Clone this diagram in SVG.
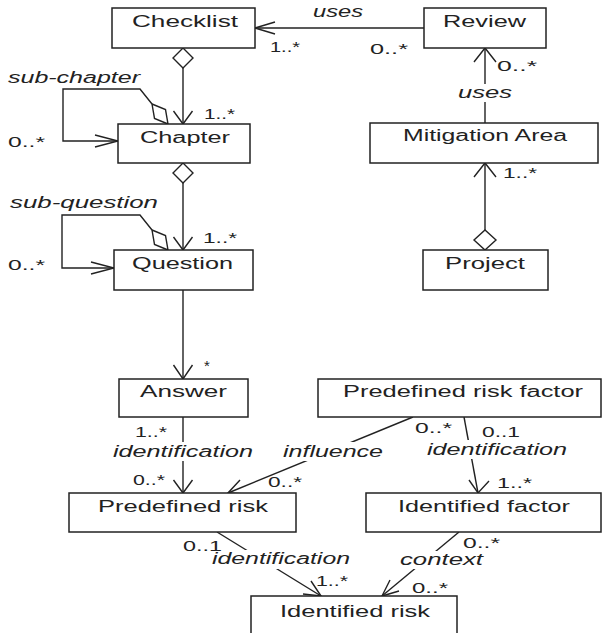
<svg xmlns="http://www.w3.org/2000/svg" width="603" height="633" viewBox="0 0 603 633">
<style>
.box{fill:#fff;stroke:#222;stroke-width:1.5}
.ln{fill:none;stroke:#222;stroke-width:1.4}
.ah{fill:none;stroke:#222;stroke-width:1.4;stroke-linejoin:miter}
.dia{fill:#fff;stroke:#222;stroke-width:1.4}
.nt{font-family:"Liberation Sans",Arial,sans-serif;font-size:16px;fill:#222}
.it{font-family:"Liberation Sans",Arial,sans-serif;font-size:16px;font-style:italic;fill:#222}
.mu{font-family:"Liberation Sans",Arial,sans-serif;font-size:15px;fill:#222}
.bg{fill:#fff;stroke:none}
</style>
<rect width="603" height="633" fill="#fff"/>
<g id="connectors">
<path class="ln" d="M424,28 H255"/>
<polyline class="ah" points="275,22 255,28 275,34"/>
<path class="ln" d="M183,68 V124"/>
<polyline class="ah" points="173.5,111 183,124 192.5,111"/>
<polygon class="dia" points="183,48 193,58 183,68 173,58"/>
<path class="ln" d="M183,183 V250"/>
<polyline class="ah" points="173.5,237 183,250 192.5,237"/>
<polygon class="dia" points="183,163 193,173 183,183 173,173"/>
<path class="ln" d="M183,290 V379"/>
<polyline class="ah" points="173.5,365 183,379 192.5,365"/>
<path class="ln" d="M183,417 V493"/>
<polyline class="ah" points="173.5,480 183,493 192.5,480"/>
<path class="ln" d="M485,123 V48"/>
<polyline class="ah" points="474,62 485,48 496,62"/>
<path class="ln" d="M485,230 V163"/>
<polyline class="ah" points="474,177 485,163 496,177"/>
<polygon class="dia" points="485,250 496,240 485,230 474,240"/>
<path class="ln" d="M152,104 L140,89 H63 V141 H118"/>
<polyline class="ah" points="95,135 118,141 95,147"/>
<polygon class="dia" points="152,104 165.5,109.6 168,124 154.5,118.4"/>
<path class="ln" d="M152,230 L140,215 H62 V268 H114"/>
<polyline class="ah" points="91,262 114,268 91,274"/>
<polygon class="dia" points="152,230 165.5,235.6 168,250 154.5,244.4"/>
<path class="ln" d="M413,417 L228,493"/>
<polyline class="ah" points="246,494 228,493 240,480"/>
<path class="ln" d="M464,417 L478,493"/>
<polyline class="ah" points="469,480 478,493 489,481"/>
<path class="ln" d="M217,532 L321,596"/>
<polyline class="ah" points="311,581 321,596 303,594"/>
<path class="ln" d="M459,532 L382,596"/>
<polyline class="ah" points="399,591 382,596 390,580"/>
<rect class="bg" x="455" y="84" width="60" height="18"/>
<rect class="bg" x="110" y="442" width="146" height="19"/>
<rect class="bg" x="280" y="442" width="106" height="19"/>
<rect class="bg" x="424" y="440" width="146" height="19"/>
<rect class="bg" x="209" y="550" width="144" height="19"/>
<rect class="bg" x="397" y="551" width="89" height="18"/>
<text class="it" x="313" y="17" textLength="50" lengthAdjust="spacingAndGlyphs">uses</text>
<text class="it" x="458" y="98" textLength="54" lengthAdjust="spacingAndGlyphs">uses</text>
<text class="it" x="8" y="83" textLength="132" lengthAdjust="spacingAndGlyphs">sub-chapter</text>
<text class="it" x="10" y="208" textLength="148" lengthAdjust="spacingAndGlyphs">sub-question</text>
<text class="it" x="113" y="457" textLength="140" lengthAdjust="spacingAndGlyphs">identification</text>
<text class="it" x="283" y="457" textLength="100" lengthAdjust="spacingAndGlyphs">influence</text>
<text class="it" x="427" y="455" textLength="140" lengthAdjust="spacingAndGlyphs">identification</text>
<text class="it" x="212" y="564" textLength="138" lengthAdjust="spacingAndGlyphs">identification</text>
<text class="it" x="400" y="565" textLength="83" lengthAdjust="spacingAndGlyphs">context</text>
<text class="mu" x="270" y="52" textLength="30" lengthAdjust="spacingAndGlyphs">1..*</text>
<text class="mu" x="370" y="54" textLength="38" lengthAdjust="spacingAndGlyphs">0..*</text>
<text class="mu" x="497" y="71" textLength="40" lengthAdjust="spacingAndGlyphs">0..*</text>
<text class="mu" x="204" y="119" textLength="31" lengthAdjust="spacingAndGlyphs">1..*</text>
<text class="mu" x="8" y="147" textLength="37" lengthAdjust="spacingAndGlyphs">0..*</text>
<text class="mu" x="203" y="243" textLength="34" lengthAdjust="spacingAndGlyphs">1..*</text>
<text class="mu" x="8" y="270" textLength="37" lengthAdjust="spacingAndGlyphs">0..*</text>
<text class="mu" x="503" y="178" textLength="34" lengthAdjust="spacingAndGlyphs">1..*</text>
<text class="mu" x="204" y="371">*</text>
<text class="mu" x="135" y="437" textLength="32" lengthAdjust="spacingAndGlyphs">1..*</text>
<text class="mu" x="415" y="433" textLength="37" lengthAdjust="spacingAndGlyphs">0..*</text>
<text class="mu" x="482" y="437" textLength="38" lengthAdjust="spacingAndGlyphs">0..1</text>
<text class="mu" x="133" y="485" textLength="32" lengthAdjust="spacingAndGlyphs">0..*</text>
<text class="mu" x="268" y="487" textLength="34" lengthAdjust="spacingAndGlyphs">0..*</text>
<text class="mu" x="497" y="488" textLength="35" lengthAdjust="spacingAndGlyphs">1..*</text>
<text class="mu" x="183" y="551" textLength="39" lengthAdjust="spacingAndGlyphs">0..1</text>
<text class="mu" x="316" y="586" textLength="32" lengthAdjust="spacingAndGlyphs">1..*</text>
<text class="mu" x="463" y="548" textLength="37" lengthAdjust="spacingAndGlyphs">0..*</text>
<text class="mu" x="412" y="593" textLength="36" lengthAdjust="spacingAndGlyphs">0..*</text>
</g>
<g id="checklist"><rect class="box" x="112" y="8" width="143" height="40"/><text class="nt" x="132" y="27" textLength="106" lengthAdjust="spacingAndGlyphs">Checklist</text></g>
<g id="review"><rect class="box" x="424" y="8" width="122" height="40"/><text class="nt" x="443" y="27" textLength="83" lengthAdjust="spacingAndGlyphs">Review</text></g>
<g id="chapter"><rect class="box" x="118" y="124" width="132" height="39"/><text class="nt" x="140" y="143" textLength="90" lengthAdjust="spacingAndGlyphs">Chapter</text></g>
<g id="mitigation-area"><rect class="box" x="370" y="123" width="228" height="40"/><text class="nt" x="403" y="141" textLength="164" lengthAdjust="spacingAndGlyphs">Mitigation Area</text></g>
<g id="question"><rect class="box" x="114" y="250" width="139" height="40"/><text class="nt" x="132" y="269" textLength="101" lengthAdjust="spacingAndGlyphs">Question</text></g>
<g id="project"><rect class="box" x="423" y="250" width="125" height="40"/><text class="nt" x="445" y="269" textLength="80" lengthAdjust="spacingAndGlyphs">Project</text></g>
<g id="answer"><rect class="box" x="119" y="379" width="129" height="38"/><text class="nt" x="140" y="397" textLength="87" lengthAdjust="spacingAndGlyphs">Answer</text></g>
<g id="predefined-risk-factor"><rect class="box" x="318" y="379" width="283" height="38"/><text class="nt" x="343" y="397" textLength="240" lengthAdjust="spacingAndGlyphs">Predefined risk factor</text></g>
<g id="predefined-risk"><rect class="box" x="69" y="493" width="227" height="39"/><text class="nt" x="98" y="512" textLength="170" lengthAdjust="spacingAndGlyphs">Predefined risk</text></g>
<g id="identified-factor"><rect class="box" x="366" y="493" width="235" height="39"/><text class="nt" x="398" y="512" textLength="172" lengthAdjust="spacingAndGlyphs">Identified factor</text></g>
<g id="identified-risk"><rect class="box" x="251" y="596" width="206" height="42"/><text class="nt" x="280" y="617" textLength="150" lengthAdjust="spacingAndGlyphs">Identified risk</text></g>
</svg>
